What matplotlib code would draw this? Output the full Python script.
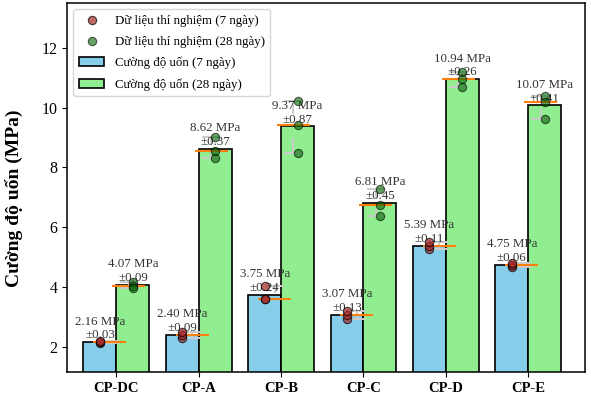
import numpy as np
import matplotlib
matplotlib.use('Agg')
import matplotlib.pyplot as plt

plt.rcParams['font.family'] = ['Liberation Serif', 'DejaVu Serif']

# mẫu thí nghiệm
samples = ['CP-DC', 'CP-A', 'CP-B', 'CP-C', 'CP-D', 'CP-E']

# cường độ uốn đo được, 3 mẫu mỗi cấp phối (MPa)
trials_7d = [
    [2.13, 2.16, 2.19],
    [2.31, 2.40, 2.49],
    [4.03, 3.62, 3.60],
    [2.94, 3.08, 3.19],
    [5.28, 5.39, 5.50],
    [4.69, 4.75, 4.81],
]
trials_28d = [
    [4.17, 4.05, 3.99],
    [9.02, 8.54, 8.30],
    [10.21, 9.42, 8.48],
    [7.28, 6.76, 6.39],
    [11.19, 10.95, 10.68],
    [10.40, 10.20, 9.61],
]

mean_7d = [np.mean(t) for t in trials_7d]
std_7d = [np.std(t, ddof=1) for t in trials_7d]
mean_28d = [np.mean(t) for t in trials_28d]
std_28d = [np.std(t, ddof=1) for t in trials_28d]

x = np.arange(len(samples))
w = 0.4

fig = plt.figure(figsize=(5.91, 3.97), dpi=100)
ax = fig.add_axes([67 / 591, 25 / 397, 518 / 591, 369 / 397])

# các điểm dữ liệu thí nghiệm
for i in range(len(samples)):
    ax.scatter([x[i] - w / 2] * 3, trials_7d[i], s=36, color='brown', alpha=0.7,
               edgecolor='black', linewidth=0.8, zorder=4,
               label='Dữ liệu thí nghiệm (7 ngày)' if i == 0 else None)
for i in range(len(samples)):
    ax.scatter([x[i] + w / 2] * 3, trials_28d[i], s=36, color='darkgreen', alpha=0.6,
               edgecolor='black', linewidth=0.8, zorder=4,
               label='Dữ liệu thí nghiệm (28 ngày)' if i == 0 else None)

ax.bar(x - w / 2, mean_7d, w, color='skyblue', edgecolor='black', linewidth=1.2,
       label='Cường độ uốn (7 ngày)', zorder=1)
ax.bar(x + w / 2, mean_28d, w, color='lightgreen', edgecolor='black', linewidth=1.2,
       label='Cường độ uốn (28 ngày)', zorder=1)

# boxplot chỉ hiện râu và trung vị
box_kw = dict(widths=0.4, showbox=False, showfliers=False, manage_ticks=False,
              whiskerprops=dict(color='#cccccc', linewidth=1.4),
              capprops=dict(color='#cccccc', linewidth=1.4),
              medianprops=dict(color='#ff7f0e', linewidth=1.5), zorder=3)
ax.boxplot(trials_7d, positions=x - 0.08, **box_kw)
ax.boxplot(trials_28d, positions=x + 0.15, **box_kw)

# nhãn giá trị trung bình ± độ lệch chuẩn
for i in range(len(samples)):
    ax.text(x[i] - w / 2, mean_7d[i] + 0.03, f'{mean_7d[i]:.2f} MPa\n±{std_7d[i]:.2f}',
            ha='center', va='bottom', fontsize=9.3, color='#333333', zorder=3)
    ax.text(x[i] + w / 2, mean_28d[i] + 0.03, f'{mean_28d[i]:.2f} MPa\n±{std_28d[i]:.2f}',
            ha='center', va='bottom', fontsize=9.3, color='#333333', zorder=3)

ax.set_xticks(x)
ax.set_xticklabels(samples, fontsize=10.5, fontweight='bold')
ax.set_ylabel('Cường độ uốn (MPa)', fontsize=14, fontweight='bold')
ax.yaxis.set_label_coords(-0.085, 0.47)
ax.tick_params(axis='y', labelsize=11.5)
ax.set_xlim(-0.6, 5.69)
ax.set_ylim(1.17, 13.49)
ax.set_yticks([2, 4, 6, 8, 10, 12])
for sp in ax.spines.values():
    sp.set_linewidth(1.1)

ax.legend(loc='upper left', fontsize=9.3, labelspacing=0.7)

fig.savefig('out.png', dpi=100)
